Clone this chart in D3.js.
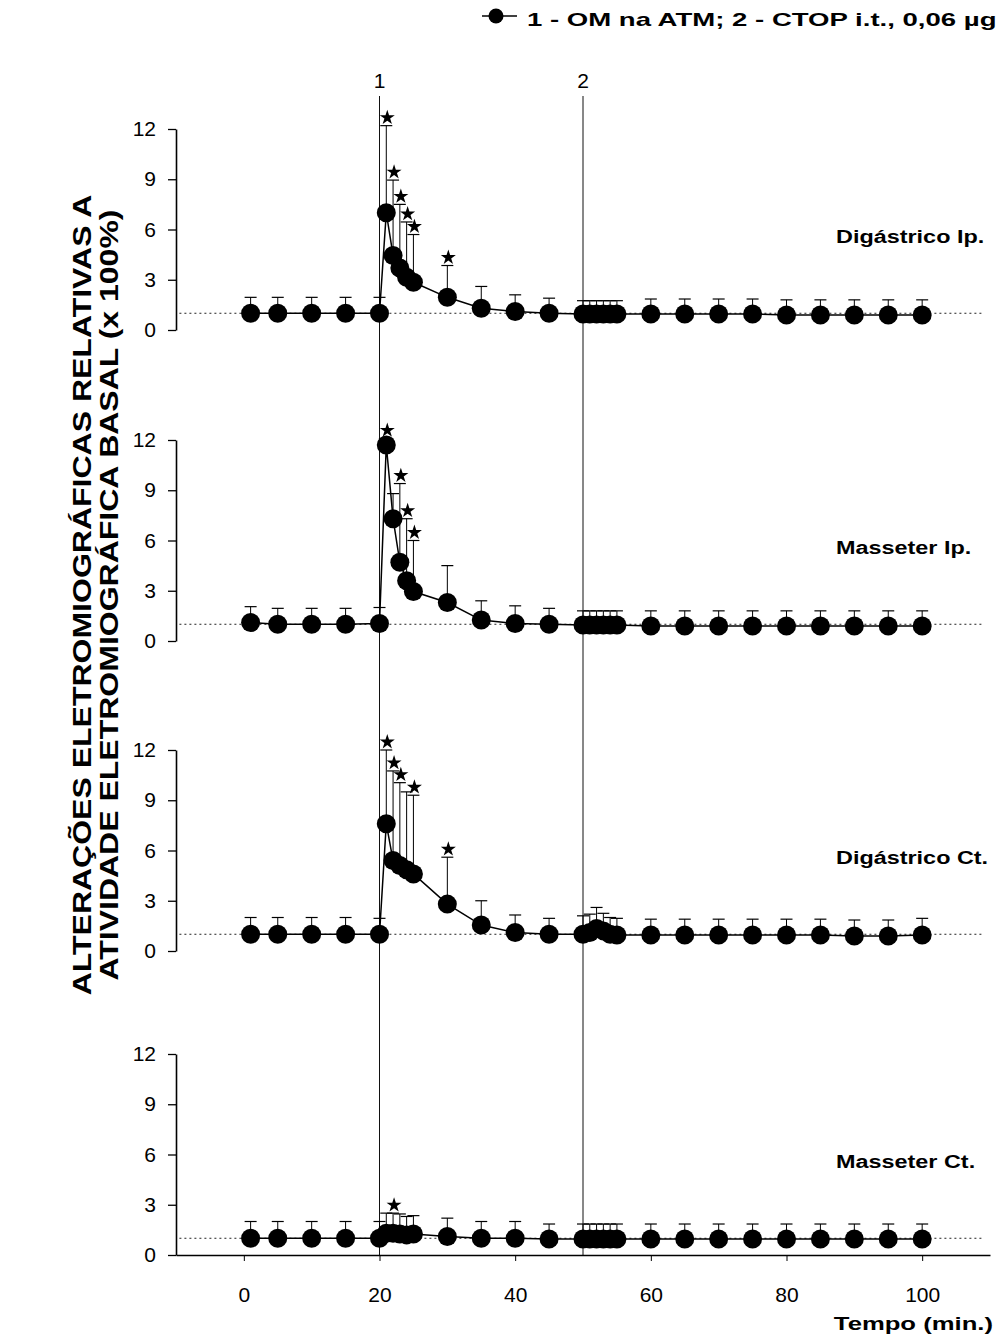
<!DOCTYPE html>
<html>
<head>
<meta charset="utf-8">
<script src="https://cdn.jsdelivr.net/npm/d3@7/dist/d3.min.js"></script>
<style>
body { margin: 0; background: #fff; }
</style>
</head>
<body>
<div id="main"></div>
<script>
// tempo das medidas (min.)
const times = [1, 5, 10, 15, 20, 21, 22, 23, 24, 25, 30, 35, 40, 45, 50, 51, 52, 53, 54, 55, 60, 65, 70, 75, 80, 85, 90, 95, 100];

const digIpMean = [1.0, 1.0, 1.0, 1.0, 1.0, 7.0, 4.45, 3.7, 3.15, 2.85, 1.95, 1.3, 1.1, 1.0, 0.95, 0.95, 0.95, 0.95, 0.95, 0.95, 0.95, 0.95, 0.95, 0.95, 0.9, 0.9, 0.9, 0.9, 0.9];
const digIpSem = [0.95, 0.95, 0.95, 0.95, 0.95, 5.2, 4.5, 3.8, 3.3, 2.85, 1.9, 1.3, 1.0, 0.9, 0.8, 0.8, 0.8, 0.8, 0.8, 0.8, 0.9, 0.9, 0.9, 0.9, 0.9, 0.9, 0.9, 0.9, 0.9];
const digIpStars = [21, 22, 23, 24, 25, 30];

const masIpMean = [1.1, 1.0, 1.0, 1.0, 1.05, 11.7, 7.3, 4.7, 3.6, 2.95, 2.3, 1.25, 1.05, 1.0, 0.95, 0.95, 0.95, 0.95, 0.95, 0.95, 0.9, 0.9, 0.9, 0.9, 0.9, 0.9, 0.9, 0.9, 0.9];
const masIpSem = [0.95, 0.95, 0.95, 0.95, 0.95, 0.4, 1.5, 4.7, 3.7, 3.05, 2.2, 1.15, 1.05, 0.95, 0.85, 0.85, 0.85, 0.85, 0.85, 0.85, 0.9, 0.9, 0.9, 0.9, 0.9, 0.9, 0.9, 0.9, 0.9];
const masIpStars = [21, 23, 24, 25];

const digCtMean = [1.0, 1.0, 1.0, 1.0, 1.0, 7.6, 5.4, 5.1, 4.85, 4.6, 2.8, 1.55, 1.1, 1.0, 1.0, 1.1, 1.35, 1.2, 1.0, 0.95, 0.95, 0.95, 0.95, 0.95, 0.95, 0.95, 0.9, 0.9, 0.95];
const digCtSem = [1.0, 1.0, 1.0, 1.0, 0.95, 4.4, 5.35, 4.95, 4.65, 4.7, 2.8, 1.45, 1.05, 0.95, 1.1, 1.1, 1.25, 1.05, 1.0, 1.0, 0.95, 0.95, 0.95, 0.95, 0.95, 0.95, 0.95, 0.95, 1.0];
const digCtStars = [21, 22, 23, 25, 30];

const masCtMean = [1.0, 1.0, 1.0, 1.0, 1.0, 1.3, 1.3, 1.25, 1.2, 1.25, 1.1, 1.0, 1.0, 0.95, 0.95, 0.95, 0.95, 0.95, 0.95, 0.95, 0.95, 0.95, 0.95, 0.95, 0.95, 0.95, 0.95, 0.95, 0.95];
const masCtSem = [1.0, 1.0, 1.0, 1.0, 1.0, 1.2, 1.2, 1.2, 1.1, 1.1, 1.1, 1.0, 1.0, 0.9, 0.9, 0.9, 0.9, 0.9, 0.9, 0.9, 0.9, 0.9, 0.9, 0.9, 0.9, 0.9, 0.9, 0.9, 0.9];
const masCtStars = [22];

const panelNames = ["Digástrico Ip.", "Masseter Ip.", "Digástrico Ct.", "Masseter Ct."];
const yTicks = [0, 3, 6, 9, 12];
const xTicks = [0, 20, 40, 60, 80, 100];
const eventTimes = [20, 50];
const eventLabels = ["1", "2"];
const legendText = "1 - OM na ATM;  2 - CTOP i.t., 0,06 \u00b5g";
const yTitle = ["ALTERAÇÕES ELETROMIOGRÁFICAS RELATIVAS A", "ATIVIDADE ELETROMIOGRÁFICA BASAL (x 100%)"];
const xTitle = "Tempo (min.)";

const panels = [
    {name: panelNames[0], mean: digIpMean, sem: digIpSem, stars: digIpStars},
    {name: panelNames[1], mean: masIpMean, sem: masIpSem, stars: masIpStars},
    {name: panelNames[2], mean: digCtMean, sem: digCtSem, stars: digCtStars},
    {name: panelNames[3], mean: masCtMean, sem: masCtSem, stars: masCtStars}
];

const width = 1008;
const height = 1340;
const panelTop = [129, 440, 750, 1054];
const panelH = 201;
const font = "Liberation Sans, Arial, Helvetica, sans-serif";

const svg = d3.select("#main").append("svg")
    .attr("width", width)
    .attr("height", height)
    .attr("viewBox", [0, 0, width, height])
    .style("font-family", font);

const x = d3.scaleLinear()
    .domain([-10, 110])
    .range([176, 990]);

// widen bold text like the scanned typeface
const stretch = (sel, k) => sel.each(function () {
    const w = this.getComputedTextLength();
    d3.select(this).attr("textLength", w * k).attr("lengthAdjust", "spacingAndGlyphs");
});

// event lines 1 and 2
svg.append("g")
    .selectAll("line")
    .data(eventTimes)
    .join("line")
    .attr("x1", d => x(d))
    .attr("x2", d => x(d))
    .attr("y1", 96)
    .attr("y2", panelTop[3] + panelH)
    .attr("stroke", "#111")
    .attr("stroke-width", 1);

svg.append("g")
    .selectAll("text")
    .data(eventTimes)
    .join("text")
    .attr("x", d => x(d))
    .attr("y", 88)
    .attr("text-anchor", "middle")
    .attr("font-size", 21)
    .text((d, i) => eventLabels[i]);

panels.forEach((p, i) => {
    const y = d3.scaleLinear()
        .domain([0, 12])
        .range([panelTop[i] + panelH, panelTop[i]]);

    const pts = times.map((t, j) => ({t: t, m: p.mean[j], s: p.sem[j]}));
    const g = svg.append("g");

    // baseline 100%
    g.append("line")
        .attr("x1", x(-9.5))
        .attr("x2", x(109))
        .attr("y1", y(1))
        .attr("y2", y(1))
        .attr("stroke", "#222")
        .attr("stroke-width", 1)
        .attr("stroke-dasharray", "2,3");

    g.append("g")
        .attr("transform", `translate(${x(-10)},0)`)
        .call(d3.axisLeft(y).tickValues(yTicks).tickSize(8).tickSizeOuter(0).tickPadding(12))
        .call(g => g.select(".domain").attr("stroke-width", 1.6))
        .call(g => g.selectAll(".tick line").attr("stroke-width", 1.3))
        .call(g => g.selectAll(".tick text").attr("font-size", 21).attr("font-family", font).attr("fill", "#000"));

    // error bars (SEM, upper only)
    g.append("g")
        .selectAll("line")
        .data(pts)
        .join("line")
        .attr("x1", d => x(d.t))
        .attr("x2", d => x(d.t))
        .attr("y1", d => y(d.m))
        .attr("y2", d => y(d.m + d.s))
        .attr("stroke", "#000")
        .attr("stroke-width", 1);

    g.append("g")
        .selectAll("line")
        .data(pts)
        .join("line")
        .attr("x1", d => x(d.t) - 6)
        .attr("x2", d => x(d.t) + 6)
        .attr("y1", d => y(d.m + d.s))
        .attr("y2", d => y(d.m + d.s))
        .attr("stroke", "#000")
        .attr("stroke-width", 1.2);

    const line = d3.line()
        .x(d => x(d.t))
        .y(d => y(d.m));

    g.append("path")
        .datum(pts)
        .attr("fill", "none")
        .attr("stroke", "#000")
        .attr("stroke-width", 1.5)
        .attr("d", line);

    g.append("g")
        .selectAll("circle")
        .data(pts)
        .join("circle")
        .attr("cx", d => x(d.t))
        .attr("cy", d => y(d.m))
        .attr("r", 9.5)
        .attr("fill", "#000");

    g.append("g")
        .selectAll("path")
        .data(pts.filter(d => p.stars.includes(d.t)))
        .join("path")
        .attr("transform", d => `translate(${x(d.t) + 1},${y(d.m + d.s) - 8})`)
        .attr("d", d3.symbol(d3.symbolStar, 70))
        .attr("fill", "#000");

    g.append("text")
        .attr("x", 836)
        .attr("y", y(5.6))
        .attr("dy", "0.35em")
        .attr("font-size", 18)
        .attr("font-weight", "bold")
        .text(p.name)
        .call(stretch, 1.3);

    if (i === panels.length - 1) {
        g.append("g")
            .attr("transform", `translate(0,${y(0)})`)
            .call(d3.axisBottom(x).tickValues(xTicks).tickSize(6).tickSizeOuter(0).tickPadding(26))
            .call(g => g.select(".domain").attr("stroke-width", 1.6))
            .call(g => g.selectAll(".tick text").attr("font-size", 21).attr("font-family", font).attr("fill", "#000"));
    }
});

// y title, two lines
svg.append("g")
    .selectAll("text")
    .data(yTitle)
    .join("text")
    .attr("transform", (d, i) => `translate(${91 + i * 27},595) rotate(-90)`)
    .attr("text-anchor", "middle")
    .attr("font-size", 25)
    .attr("font-weight", "bold")
    .text(d => d)
    .call(stretch, 1.28);

svg.append("text")
    .attr("x", 993)
    .attr("y", 1330)
    .attr("text-anchor", "end")
    .attr("font-size", 19)
    .attr("font-weight", "bold")
    .text(xTitle)
    .call(stretch, 1.35);

// legend
const lg = svg.append("g");
lg.append("line")
    .attr("x1", 482).attr("x2", 517)
    .attr("y1", 16).attr("y2", 16)
    .attr("stroke", "#000").attr("stroke-width", 1.5);
lg.append("circle")
    .attr("cx", 496).attr("cy", 16).attr("r", 7.5)
    .attr("fill", "#000");
lg.append("text")
    .attr("x", 527)
    .attr("y", 26)
    .attr("font-size", 19)
    .attr("font-weight", "bold")
    .text(legendText)
    .call(stretch, 1.45);
</script>
</body>
</html>
